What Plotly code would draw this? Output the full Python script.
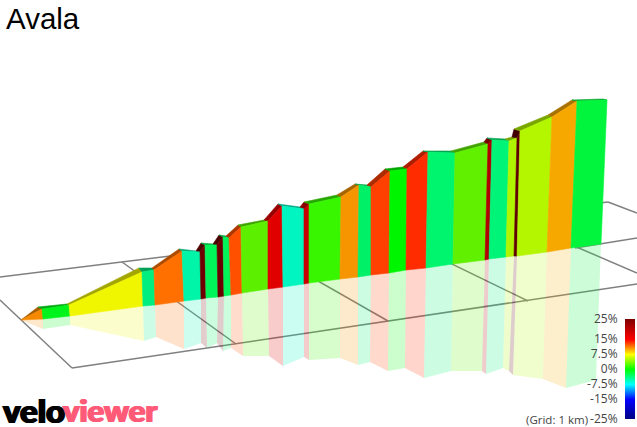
import plotly.graph_objects as go

W, H = 637, 427

# Profile boundaries (screen position of each segment end)
top_x = [21, 42, 69, 142, 154, 182, 200, 205, 217, 223, 229, 241, 268, 282, 304, 309, 341, 359, 371, 390, 407, 428, 455, 488, 492, 509, 517, 520, 552, 577, 607]
top_y = [320, 309, 305, 272, 270, 251, 252, 245, 245, 237, 238, 227, 221, 206, 209, 204, 197, 185, 187, 171, 169, 152, 153, 144, 140, 141, 138, 131, 117, 101, 100]
base_x = [21, 43, 70, 143, 155, 184, 201, 206, 218, 224, 231, 242, 268, 283, 304, 309, 340, 358, 371, 389, 406, 426, 453, 485, 489, 506, 514, 517, 547, 571, 601]
base_y = [320, 319, 316, 306, 305, 301, 299, 298, 297, 296, 295, 293, 289, 287, 284, 283, 279, 277, 275, 273, 270, 268, 264, 260, 259, 257, 256, 256, 252, 248, 244]
back_x = [21, 38, 67, 139, 152, 179, 196, 201, 213, 219, 226, 238, 264, 278, 300, 304, 337, 355, 367, 385, 403, 423, 451, 484, 487, 505, 512, 514, 548, 572, 603]
back_y = [320, 307, 304, 268, 268, 249, 251, 243, 244, 235, 236, 225, 220, 204, 207, 202, 195, 184, 185, 169, 167, 151, 151, 142, 138, 139, 137, 129, 115, 100, 99]
refl_x = [25, 43, 70, 144, 156, 184, 201, 207, 217, 223, 231, 243, 269, 283, 304, 309, 340, 358, 370, 388, 405, 424, 451, 482, 486, 503, 509, 513, 543, 566, 596]
refl_y = [322, 329, 325, 341, 337, 349, 343, 348, 343, 351, 348, 356, 356, 366, 357, 360, 358, 365, 362, 371, 368, 378, 371, 371, 374, 368, 371, 375, 379, 388, 380]
segment_colors = ["#f58a00", "#00f31a", "#f0f500", "#00ee80", "#ff7000", "#00f5a8", "#700000", "#00f55a",
                  "#6a0000", "#00f55a", "#ff5000", "#5cf000", "#e00000", "#00f5c0", "#c80000", "#38f500",
                  "#f79500", "#00f068", "#ff4000", "#00f500", "#ff2c00", "#00f56e", "#60f000", "#b00000",
                  "#00f578", "#b0f500", "#600000", "#b4f500", "#f7a800", "#00f53c"]

# Ground grid lines
grid_lines = [
    ([0, 608], [277, 202]),
    ([608, 637], [202, 213]),
    ([0, 72], [300, 368]),
    ([72, 637], [368, 284]),
    ([122, 236], [262, 344]),
    ([255, 388], [245, 321]),
    ([382, 528], [230, 301]),
    ([502, 637], [215, 273]),
    ([575, 637], [248, 238]),
]

scale_levels = [-25, -15, -7.5, 0, 7.5, 15, 25]
scale_colors = ["#000080", "#0000ff", "#00ffff", "#00ff00", "#ffff00", "#ff0000", "#800000"]
scale_labels = ["-25%", "-15%", "-7.5%", "0%", "7.5%", "15%", "25%"]


def rgb(c):
    return int(c[1:3], 16), int(c[3:5], 16), int(c[5:7], 16)


def shade(c, k=0.68):
    r, g, b = rgb(c)
    return f"rgb({int(r*k)},{int(g*k)},{int(b*k)})"


def tint(c, a=0.2):
    r, g, b = rgb(c)
    return f"rgba({r},{g},{b},{a})"


fig = go.Figure()


def poly(xs, ys, fill, line=None):
    fig.add_trace(go.Scatter(
        x=xs + xs[:1], y=ys + ys[:1], mode="lines", fill="toself", fillcolor=fill,
        line=dict(width=0.6 if line else 0, color=line or "rgba(0,0,0,0)"),
        hoverinfo="skip", showlegend=False, xaxis="x", yaxis="y"))


for gx, gy in grid_lines:
    fig.add_trace(go.Scatter(x=gx, y=gy, mode="lines", line=dict(color="#808080", width=1.5),
                             hoverinfo="skip", showlegend=False))

for i, c in enumerate(segment_colors):
    poly([base_x[i], base_x[i + 1], refl_x[i + 1], refl_x[i]],
         [base_y[i], base_y[i + 1], refl_y[i + 1], refl_y[i]], tint(c))

for i, c in enumerate(segment_colors):
    poly([top_x[i], top_x[i + 1], back_x[i + 1], back_x[i]],
         [top_y[i], top_y[i + 1], back_y[i + 1], back_y[i]], shade(c), shade(c))

for i, c in enumerate(segment_colors):
    poly([top_x[i], top_x[i + 1], base_x[i + 1], base_x[i]],
         [top_y[i], top_y[i + 1], base_y[i + 1], base_y[i]], c, c)

fig.add_trace(go.Heatmap(
    x=[0, 1], y=scale_levels, z=[[v, v] for v in scale_levels], xaxis="x2", yaxis="y2",
    zmin=-25, zmax=25, zsmooth="best", showscale=False, hoverinfo="skip",
    colorscale=[[(v + 25) / 50, col] for v, col in zip(scale_levels, scale_colors)]))

fig.update_layout(
    width=W, height=H, margin=dict(l=0, r=0, t=0, b=0, pad=0, autoexpand=False),
    paper_bgcolor="white", plot_bgcolor="white",
    xaxis=dict(range=[0, W], visible=False, domain=[0, 1], fixedrange=True, automargin=False),
    yaxis=dict(range=[H, 0], visible=False, domain=[0, 1], fixedrange=True, automargin=False),
    xaxis2=dict(range=[0, 1], visible=False, domain=[625 / W, 635 / W], anchor="y2", automargin=False),
    yaxis2=dict(range=[-25, 25], domain=[(H - 419) / H, (H - 319) / H], anchor="x2", side="left",
                automargin=False, ticklabeloverflow="allow",
                tickmode="array", tickvals=scale_levels, ticktext=scale_labels,
                ticks="outside", ticklen=4, tickcolor="rgba(0,0,0,0)", showgrid=False, zeroline=False,
                showline=False, tickfont=dict(family="Open Sans", size=12, color="#444444")),
    annotations=[
        dict(text="Avala", xref="x", yref="y", x=4, y=18, xanchor="left", yanchor="middle", showarrow=False,
             font=dict(family="Liberation Sans", size=29.5, color="#000000")),
        dict(text="(Grid: 1 km)", xref="x", yref="y", x=590, y=419, xanchor="right", yanchor="middle",
             showarrow=False, font=dict(family="Open Sans", size=11.5, color="#444444")),
        dict(text="velo", xref="x", yref="y", x=1, y=410, xanchor="left", yanchor="middle", showarrow=False,
             font=dict(family="Lato", size=33, color="#000000", weight=900, shadow="1px 0 #000000, -1px 0 #000000")),
        dict(text="viewer", xref="x", yref="y", x=61, y=410, xanchor="left", yanchor="middle", showarrow=False,
             font=dict(family="Lato", size=31, color="#ff5a78", weight=900, shadow="1px 0 #ff5a78, -1px 0 #ff5a78")),
    ],
)

fig.write_html("out.html", config={"displayModeBar": False},
               post_script="document.body.style.margin='0';document.documentElement.style.overflow='hidden';")
